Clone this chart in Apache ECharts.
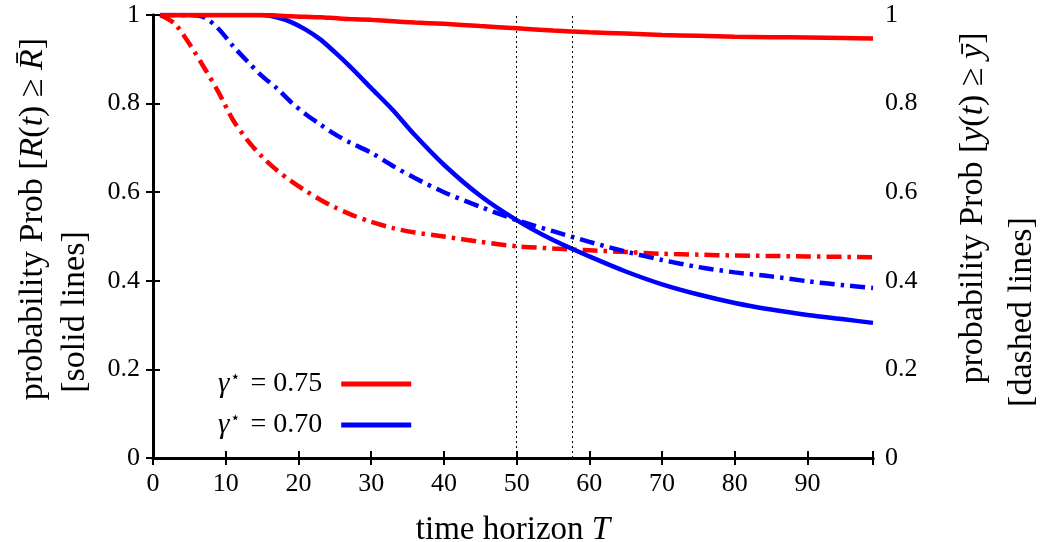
<!DOCTYPE html>
<html>
<head>
<meta charset="utf-8">
<script src="https://cdn.jsdelivr.net/npm/echarts@6/dist/echarts.min.js"></script>
<style>
html,body{margin:0;padding:0;background:#fff;}
#chart{width:1043px;height:542px;}
</style>
</head>
<body>
<div id="chart"></div>
<script>
// time horizon values (x)
const T = [1,3,5,7,9,11,13,15,17,19,21,23,25,27,30,33,36,40,45,50,55,60,65,70,75,80,85,90,95,99];
// gamma* = 0.75 : Prob[R(t) >= Rbar] (solid)
const redSolid  = [1,1,1,1,1,1,1,1,0.999,0.997,0.996,0.995,0.993,0.991,0.989,0.986,0.983,0.980,0.975,0.970,0.965,0.961,0.958,0.955,0.953,0.951,0.950,0.949,0.948,0.947];
// gamma* = 0.75 : Prob[y(t) >= ybar] (dashed)
const redDash   = [1,0.98,0.935,0.882,0.826,0.763,0.717,0.680,0.650,0.625,0.603,0.583,0.566,0.551,0.533,0.519,0.509,0.500,0.488,0.478,0.473,0.469,0.465,0.461,0.459,0.457,0.456,0.455,0.454,0.453];
// gamma* = 0.70 : Prob[R(t) >= Rbar] (solid)
const blueSolid = [1,1,1,1,1,1,1,1,0.995,0.984,0.967,0.945,0.916,0.885,0.835,0.785,0.729,0.662,0.592,0.537,0.492,0.455,0.421,0.392,0.369,0.350,0.335,0.323,0.313,0.305];
// gamma* = 0.70 : Prob[y(t) >= ybar] (dashed)
const blueDash  = [1,1,1,0.995,0.969,0.930,0.895,0.862,0.835,0.803,0.776,0.753,0.731,0.713,0.689,0.659,0.632,0.600,0.567,0.537,0.512,0.488,0.466,0.447,0.431,0.419,0.410,0.399,0.390,0.384];
const gammas = ['0.75', '0.70'];
const markTimes = [50, 57.6];
const xMin = 0, xMax = 99, xStep = 10;
const yMin = 0, yMax = 1, yStep = 0.2;

const FONT = '"Liberation Serif", "DejaVu Serif", serif';
const pairs = arr => T.map((t, i) => [t, arr[i]]);
const RED = '#ff0000', BLUE = '#0000ff';
const dashType = [15, 6, 3.5, 6];

const chart = echarts.init(document.getElementById('chart'), null, {renderer: 'canvas'});

const axisLineStyle = {color: '#000', width: 3};
const tickStyle = {show: true, inside: true, length: 7, lineStyle: {color: '#000', width: 2}};

const option = {
  animation: false,
  backgroundColor: '#fff',
  grid: {left: 153, right: 170, top: 15, bottom: 84, containLabel: false, outerBoundsMode: 'none'},
  legend: {
    orient: 'vertical',
    left: 213,
    top: 364,
    itemWidth: 70,
    itemHeight: 5,
    itemGap: 11,
    align: 'right',
    icon: 'rect',
    selectedMode: false,
    data: ['g' + gammas[0], 'g' + gammas[1]],
    formatter: name => '{g|γ}{s|⋆}{n| = ' + name.slice(1) + '}',
    textStyle: {
      fontFamily: FONT, fontSize: 28, color: '#000', lineHeight: 30, padding: [0, 14, 0, 0],
      rich: {
        g: {fontFamily: FONT, fontSize: 29, fontStyle: 'italic', color: '#000'},
        s: {fontFamily: FONT, fontSize: 17, color: '#000', verticalAlign: 'top', padding: [0, 2, 0, 1]},
        n: {fontFamily: FONT, fontSize: 28, color: '#000'}
      }
    }
  },
  xAxis: [{
    type: 'value', position: 'bottom', min: xMin, max: xMax, interval: xStep,
    axisLine: {show: true, lineStyle: axisLineStyle},
    axisTick: tickStyle,
    splitLine: {show: false},
    axisLabel: {fontFamily: FONT, fontSize: 26, color: '#000', margin: 13,
      formatter: v => (v % xStep === 0 ? String(v) : '')},
    name: 'time horizon {i|T}',
    nameLocation: 'middle', nameGap: 56,
    nameTextStyle: {fontFamily: FONT, fontSize: 33, color: '#000',
      rich: {i: {fontFamily: FONT, fontSize: 33, fontStyle: 'italic', color: '#000'}}}
  }, {
    type: 'value', position: 'top', min: xMin, max: xMax, interval: xStep,
    axisLine: {show: true, lineStyle: axisLineStyle},
    axisTick: tickStyle,
    splitLine: {show: false},
    axisLabel: {show: false}
  }],
  yAxis: [{
    type: 'value', position: 'left', min: yMin, max: yMax, interval: yStep,
    axisLine: {show: true, lineStyle: axisLineStyle},
    axisTick: tickStyle,
    splitLine: {show: false},
    axisLabel: {fontFamily: FONT, fontSize: 26, color: '#000', margin: 13,
      formatter: v => String(Math.round(v * 10) / 10)}
  }, {
    type: 'value', position: 'right', min: yMin, max: yMax, interval: yStep,
    axisLine: {show: true, lineStyle: axisLineStyle},
    axisTick: tickStyle,
    splitLine: {show: false},
    axisLabel: {fontFamily: FONT, fontSize: 26, color: '#000', margin: 12,
      formatter: v => String(Math.round(v * 10) / 10)}
  }],
  graphic: [
    {type: 'text', x: 33, y: 219, rotation: Math.PI / 2, silent: true,
      style: {text: 'probability Prob [{i|R}({i|t}) ≥ {i|R̄}]', fontFamily: FONT, fontSize: 34, fill: '#000',
        align: 'center', verticalAlign: 'middle',
        rich: {i: {fontFamily: FONT, fontSize: 34, fontStyle: 'italic', fill: '#000'}}}},
    {type: 'text', x: 75, y: 312, rotation: Math.PI / 2, silent: true,
      style: {text: '[solid lines]', fontFamily: FONT, fontSize: 34, fill: '#000',
        align: 'center', verticalAlign: 'middle'}},
    {type: 'text', x: 973, y: 208, rotation: Math.PI / 2, silent: true,
      style: {text: 'probability Prob [{i|y}({i|t}) ≥ {i|ȳ}]', fontFamily: FONT, fontSize: 34, fill: '#000',
        align: 'center', verticalAlign: 'middle',
        rich: {i: {fontFamily: FONT, fontSize: 34, fontStyle: 'italic', fill: '#000'}}}},
    {type: 'text', x: 1022, y: 312, rotation: Math.PI / 2, silent: true,
      style: {text: '[dashed lines]', fontFamily: FONT, fontSize: 34, fill: '#000',
        align: 'center', verticalAlign: 'middle'}}
  ],
  series: [
    {name: 'd' + gammas[0], type: 'line', data: pairs(redDash), showSymbol: false, smooth: 0.3,
      color: RED, lineStyle: {color: RED, width: 4.5, type: dashType}, z: 3,
      markLine: {silent: true, symbol: 'none', label: {show: false},
        lineStyle: {color: '#000', width: 1, type: [2, 3]},
        data: markTimes.map(t => ({xAxis: t}))}},
    {name: 'd' + gammas[1], type: 'line', data: pairs(blueDash), showSymbol: false, smooth: 0.3,
      color: BLUE, lineStyle: {color: BLUE, width: 4.5, type: dashType}, z: 3},
    {name: 'g' + gammas[1], type: 'line', data: pairs(blueSolid), showSymbol: false, smooth: 0.3,
      color: BLUE, lineStyle: {color: BLUE, width: 4.5}, z: 4},
    {name: 'g' + gammas[0], type: 'line', data: pairs(redSolid), showSymbol: false, smooth: 0.3,
      color: RED, lineStyle: {color: RED, width: 4.5}, z: 5}
  ]
};
chart.setOption(option);
</script>
</body>
</html>
